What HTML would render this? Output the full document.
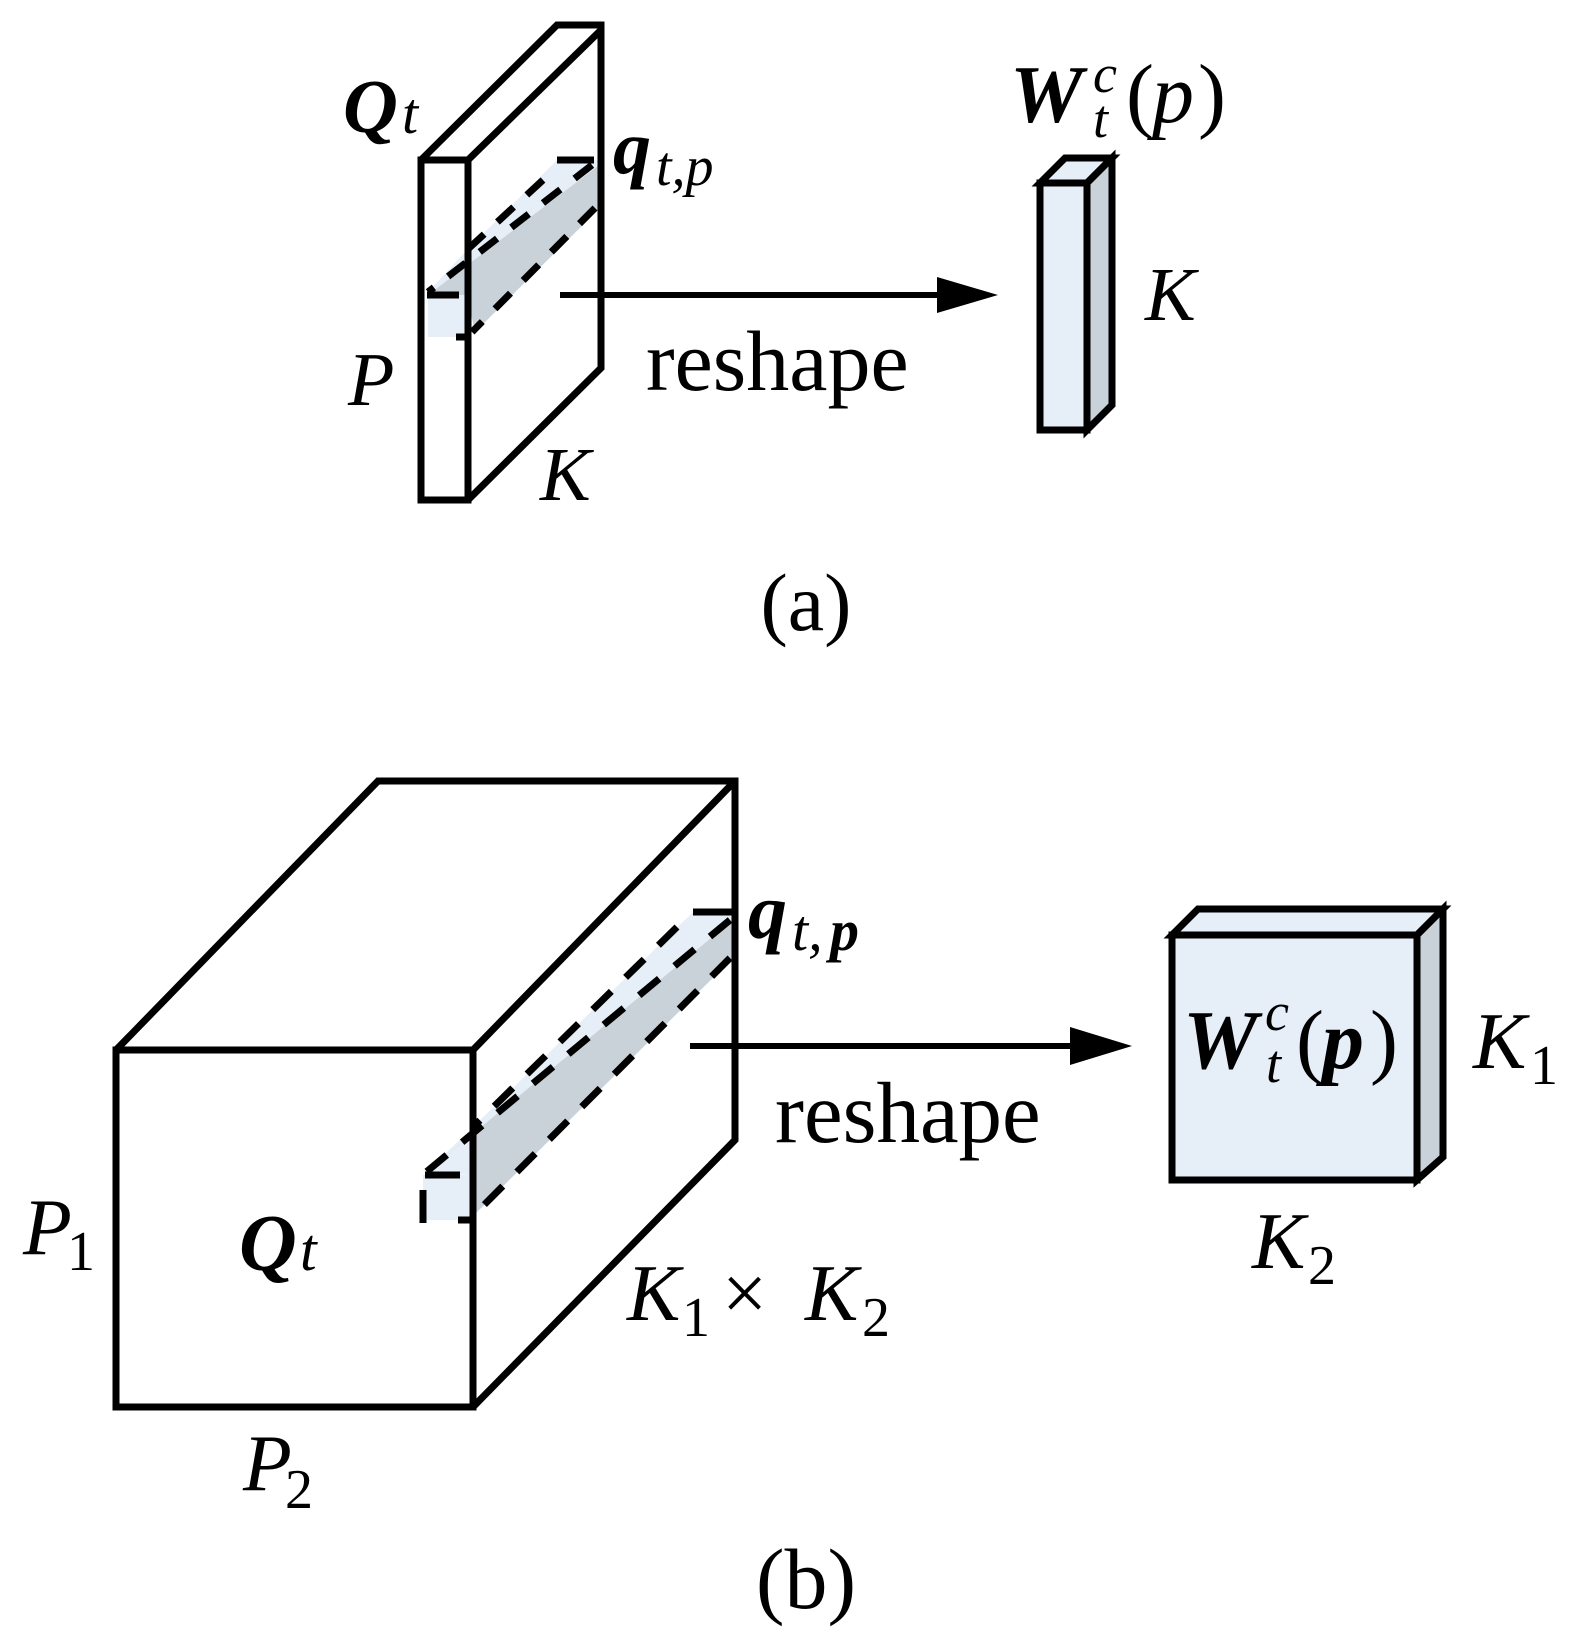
<!DOCTYPE html>
<html><head><meta charset="utf-8"><style>
html,body{margin:0;padding:0;background:#fff;}
svg{display:block;}
text{font-family:"Liberation Serif",serif;fill:#000;}
</style></head><body>
<svg width="1581" height="1641" viewBox="0 0 1581 1641" xmlns="http://www.w3.org/2000/svg">

<!-- ===== Panel (a) ===== -->
<polygon points="557,160 598,160 428,292 467,250" fill="#e6eef7"/>
<polygon points="598,163 598,210 475,332 468,300 428,292" fill="#c9d1d9"/>
<polygon points="598,160 598,166 428,295 428,292" fill="#e6eef7"/>
<rect x="428" y="295" width="38" height="42" fill="#e6eef7"/>
<g fill="none" stroke="#000" stroke-width="7" stroke-linejoin="miter">
  <polygon points="421,160 468,160 468,500 421,500"/>
  <polyline points="421,160 557,25 601,25 601,368 468,500"/>
  <line x1="468" y1="160" x2="601" y2="30"/>
</g>
<g fill="none" stroke="#000" stroke-width="7" stroke-dasharray="22,18">
  <line x1="543" y1="180" x2="467" y2="250"/>
  <line x1="592" y1="165" x2="428" y2="292"/>
  <line x1="595" y1="208" x2="472" y2="332"/>
</g>
<g stroke="#000" stroke-width="7">
  <line x1="557" y1="160" x2="594" y2="160"/>
  <line x1="427" y1="295" x2="459" y2="295"/>
  <line x1="456" y1="337" x2="470" y2="337"/>
</g>
<line x1="560" y1="295" x2="940" y2="295" stroke="#000" stroke-width="6"/>
<polygon points="937,277 998,295 937,313" fill="#000"/>
<polygon points="1040,183 1065,158 1112,158 1087,183" fill="#e6eef7" stroke="#000" stroke-width="7"/>
<polygon points="1087,183 1112,158 1112,405 1087,430" fill="#c9d1d9" stroke="#000" stroke-width="7"/>
<rect x="1040" y="183" width="47" height="247" fill="#e6eef7" stroke="#000" stroke-width="7"/>

<text x="343" y="132" font-size="76" font-weight="bold" font-style="italic">Q</text>
<text x="402" y="133" font-size="58" font-style="italic">t</text>
<text x="613" y="173" font-size="76" font-weight="bold" font-style="italic">q</text>
<text x="656" y="185" font-size="56" font-style="italic">t,p</text>
<text x="348" y="405" font-size="76" font-style="italic">P</text>
<text x="540" y="500" font-size="76" font-style="italic">K</text>
<text x="646" y="390" font-size="86">reshape</text>
<text x="1010" y="122" font-size="82" font-weight="bold" font-style="italic">W</text>
<text x="1093" y="92" font-size="54" font-style="italic">c</text>
<text x="1093" y="137" font-size="54" font-style="italic">t</text>
<text x="1126" y="122" font-size="84">(</text>
<text x="1152" y="122" font-size="84" font-style="italic">p</text>
<text x="1198" y="122" font-size="84">)</text>
<text x="1145" y="320" font-size="76" font-style="italic">K</text>
<text x="806" y="630" font-size="82" text-anchor="middle">(a)</text>

<!-- ===== Panel (b) ===== -->
<polygon points="693,912 733,912 733,920 425,1173 473,1127" fill="#e6eef7"/>
<polygon points="733,920 733,958 472,1217 472,1135 425,1173" fill="#c9d1d9"/>
<polygon points="425,1173 472,1135 472,1175" fill="#e6eef7"/>
<rect x="423" y="1175" width="49" height="45" fill="#e6eef7"/>
<g fill="none" stroke="#000" stroke-width="7">
  <rect x="116" y="1050" width="357" height="357"/>
  <polyline points="116,1050 378,781 735,781 735,1140 473,1407"/>
  <line x1="473" y1="1050" x2="735" y2="781"/>
</g>
<g fill="none" stroke="#000" stroke-width="7" stroke-dasharray="26,20">
  <line x1="677" y1="927" x2="473" y2="1127"/>
  <line x1="730" y1="920" x2="425" y2="1173"/>
  <line x1="730" y1="958" x2="472" y2="1217"/>
</g>
<g stroke="#000" stroke-width="7">
  <line x1="693" y1="912" x2="733" y2="912"/>
  <line x1="425" y1="1175" x2="460" y2="1175"/>
  <line x1="423" y1="1190" x2="423" y2="1223"/>
  <line x1="458" y1="1220" x2="473" y2="1220"/>
</g>
<line x1="690" y1="1046" x2="1075" y2="1046" stroke="#000" stroke-width="6"/>
<polygon points="1070,1027 1132,1046 1070,1065" fill="#000"/>
<polygon points="1172,935 1198,909 1443,909 1417,935" fill="#e6eef7" stroke="#000" stroke-width="7"/>
<polygon points="1417,935 1443,909 1443,1157 1417,1180" fill="#c9d1d9" stroke="#000" stroke-width="7"/>
<rect x="1172" y="935" width="245" height="245" fill="#e6eef7" stroke="#000" stroke-width="7"/>

<text x="23" y="1254" font-size="80" font-style="italic">P</text>
<text x="67" y="1270" font-size="56">1</text>
<text x="239" y="1270" font-size="80" font-weight="bold" font-style="italic">Q</text>
<text x="300" y="1270" font-size="60" font-style="italic">t</text>
<text x="748" y="938" font-size="78" font-weight="bold" font-style="italic">q</text>
<text x="792" y="950" font-size="58" font-style="italic">t,</text>
<text x="830" y="950" font-size="58" font-weight="bold" font-style="italic">p</text>
<text x="775" y="1142" font-size="87">reshape</text>
<text x="627" y="1320" font-size="80" font-style="italic">K</text>
<text x="682" y="1336" font-size="56">1</text>
<text x="722" y="1320" font-size="80">×</text>
<text x="805" y="1320" font-size="80" font-style="italic">K</text>
<text x="862" y="1336" font-size="56">2</text>
<text x="243" y="1490" font-size="80" font-style="italic">P</text>
<text x="285" y="1508" font-size="56">2</text>
<text x="1183" y="1068" font-size="84" font-weight="bold" font-style="italic">W</text>
<text x="1265" y="1030" font-size="54" font-style="italic">c</text>
<text x="1266" y="1082" font-size="54" font-style="italic">t</text>
<text x="1296" y="1068" font-size="84">(</text>
<text x="1322" y="1068" font-size="84" font-weight="bold" font-style="italic">p</text>
<text x="1370" y="1068" font-size="84">)</text>
<text x="1473" y="1068" font-size="80" font-style="italic">K</text>
<text x="1530" y="1084" font-size="56">1</text>
<text x="1252" y="1268" font-size="80" font-style="italic">K</text>
<text x="1308" y="1284" font-size="56">2</text>
<text x="806" y="1608" font-size="86" text-anchor="middle">(b)</text>
</svg>
</body></html>
